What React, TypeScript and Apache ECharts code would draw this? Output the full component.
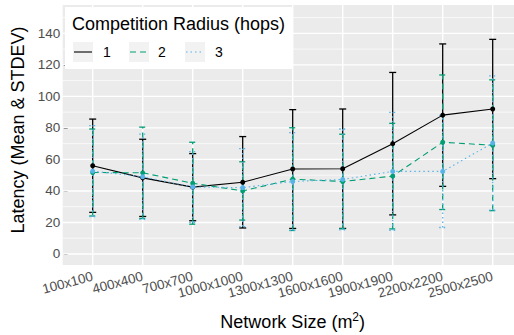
import React, { useEffect, useRef } from "react";
import * as echarts from "echarts";

const categories = ["100x100", "400x400", "700x700", "1000x1000", "1300x1300", "1600x1600", "1900x1900", "2200x2200", "2500x2500"];
const seriesNames = ["1", "2", "3"];
const mean1 = [56, 48.3, 42.4, 45.5, 53.9, 54.1, 70, 88.1, 92];
const sd1 = [29.6, 24.5, 21.3, 29, 37.7, 37.9, 45.2, 45.2, 44.2];
const mean2 = [51.7, 51.5, 44.9, 40, 47.5, 46, 49.4, 70.9, 69];
const sd2 = [27.6, 29, 26, 18.5, 32.6, 30, 33.5, 42.7, 41.5];
const mean3 = [52.6, 49, 42.5, 42.1, 46, 47.3, 52.4, 52.4, 70.4];
const sd3 = [28.9, 27, 22.5, 24.7, 31, 32, 37.4, 35.6, 42.6];
const yTicks = [0, 20, 40, 60, 80, 100, 120, 140];
const yMinor = [10, 30, 50, 70, 90, 110, 130, 150];

const colors = ["#000000", "#009E73", "#56B4E9"];
const dashes: any[] = ["solid", [6, 4], [1.5, 3]];
const FONT = "Liberation Sans, Arial, Helvetica, sans-serif";

// ggplot's discrete axis expands 0.6 of a band on each side; ECharts' band gives 0.5
function panelExt(cs: any) {
  return (cs.width / categories.length) * 0.1;
}

function panelSeries() {
  return {
    type: "custom",
    silent: true,
    z: 0,
    data: [[0, 0]],
    renderItem: (params: any) => {
      const cs = params.coordSys;
      const e = panelExt(cs);
      return { type: "rect", shape: { x: cs.x - e, y: cs.y, width: cs.width + 2 * e, height: cs.height }, style: { fill: "#EBEBEB" } };
    },
  };
}

function gridSeries(values: number[], horizontal: boolean, width: number) {
  return {
    type: "custom",
    silent: true,
    z: 1,
    data: values.map((v) => (horizontal ? [0, v] : [v, 0])),
    renderItem: (params: any, api: any) => {
      const cs = params.coordSys;
      const e = panelExt(cs);
      if (horizontal) {
        const y = api.coord([0, api.value(1)])[1];
        return { type: "line", shape: { x1: cs.x - e, y1: y, x2: cs.x + cs.width + e, y2: y }, style: { stroke: "#FFFFFF", lineWidth: width } };
      }
      const x = api.coord([api.value(0), 0])[0];
      return { type: "line", shape: { x1: x, y1: cs.y, x2: x, y2: cs.y + cs.height }, style: { stroke: "#FFFFFF", lineWidth: width } };
    },
  };
}

function errSeries(name: string, mean: number[], sd: number[], color: string, dash: any, z: number) {
  return {
    type: "custom",
    name,
    silent: true,
    z,
    encode: { x: 0, y: [1, 2] },
    data: mean.map((m, i) => [i, m - sd[i], m + sd[i]]),
    renderItem: (params: any, api: any) => {
      const x = api.value(0);
      const lo = api.coord([x, api.value(1)]);
      const hi = api.coord([x, api.value(2)]);
      const hw = 3.5;
      const style = { stroke: color, lineWidth: 1.3, lineDash: dash === "solid" ? null : dash, fill: null };
      return {
        type: "group",
        children: [
          { type: "line", shape: { x1: lo[0], y1: lo[1], x2: hi[0], y2: hi[1] }, style },
          { type: "line", shape: { x1: hi[0] - hw, y1: hi[1], x2: hi[0] + hw, y2: hi[1] }, style },
          { type: "line", shape: { x1: lo[0] - hw, y1: lo[1], x2: lo[0] + hw, y2: lo[1] }, style },
        ],
      };
    },
  };
}

function lineSeries(name: string, mean: number[], color: string, dash: any, z: number) {
  return {
    type: "line",
    name,
    z,
    data: mean,
    symbol: "circle",
    symbolSize: 5,
    showSymbol: true,
    itemStyle: { color, borderWidth: 0 },
    lineStyle: { color, width: 1.1, type: dash },
  };
}

function legendGraphic() {
  const keyX = [73, 129, 185];
  const labX = [103, 158, 215];
  const Z = 100;
  const children: any[] = [
    { type: "rect", z: Z, shape: { x: 65, y: 7, width: 227, height: 62 }, style: { fill: "#FFFFFF" } },
    { type: "text", z: Z + 1, x: 72, y: 24, style: { text: "Competition Radius (hops)", font: `18px ${FONT}`, fill: "#000", verticalAlign: "middle" } },
  ];
  seriesNames.forEach((n, i) => {
    children.push({ type: "rect", z: Z + 1, shape: { x: keyX[i], y: 42, width: 20, height: 20 }, style: { fill: "#F2F2F2" } });
    children.push({
      type: "line",
      z: Z + 2,
      shape: { x1: keyX[i] + 1, y1: 52, x2: keyX[i] + 19, y2: 52 },
      style: { stroke: colors[i], lineWidth: 1.1, lineDash: dashes[i] === "solid" ? null : dashes[i] },
    });
    children.push({ type: "text", z: Z + 1, x: labX[i], y: 52, style: { text: n, font: `14px ${FONT}`, fill: "#000", verticalAlign: "middle" } });
  });
  return children;
}

export default function App() {
  const ref = useRef<HTMLDivElement>(null);
  useEffect(() => {
    if (!ref.current) return;
    const chart = echarts.init(ref.current, null, { renderer: "svg" });
    const means = [mean1, mean2, mean3];
    const sds = [sd1, sd2, sd3];
    chart.setOption({
      animation: false,
      backgroundColor: "#FFFFFF",
      textStyle: { fontFamily: FONT },
      grid: {
        left: 67.7,
        top: 5,
        width: 450,
        height: 260,
        show: false,
        containLabel: false,
        outerBoundsMode: "none",
      },
      xAxis: {
        type: "category",
        data: categories,
        boundaryGap: true,
        axisLine: { show: false },
        splitLine: { show: false },
        axisTick: { show: true, alignWithLabel: true, interval: 0, length: 4, lineStyle: { color: "#333333", width: 1 } },
        axisLabel: {
          interval: 0,
          rotate: 15,
          color: "#4D4D4D",
          fontSize: 13.5,
          margin: 11,
          fontFamily: FONT,
          hideOverlap: false,
        },
        name: "{a|Network Size (m}{s|2}{a|)}",
        nameLocation: "middle",
        nameGap: 46,
        nameTextStyle: {
          rich: {
            a: { fontSize: 18, color: "#000", lineHeight: 22, fontFamily: FONT },
            s: { fontSize: 12, color: "#000", lineHeight: 12, verticalAlign: "top", fontFamily: FONT },
          },
        },
      },
      yAxis: {
        type: "value",
        min: -7,
        max: 158,
        axisLine: { show: false },
        splitLine: { show: false },
        axisTick: { show: true, length: 4, lineStyle: { color: "#333333", width: 1 }, customValues: yTicks },
        axisLabel: { customValues: yTicks, color: "#4D4D4D", fontSize: 13.5, margin: 7.5, fontFamily: FONT },
        name: "Latency (Mean & STDEV)",
        nameLocation: "middle",
        nameGap: 32,
        nameTextStyle: { fontSize: 18, color: "#000", fontFamily: FONT, padding: [0, 0, 0, 10] },
      },
      series: [
        panelSeries(),
        gridSeries(yMinor, true, 0.7),
        gridSeries(yTicks, true, 1.4),
        gridSeries(categories.map((_, i) => i), false, 1.4),
        ...seriesNames.map((n, i) => errSeries(n, means[i], sds[i], colors[i], dashes[i], 3 + i)),
        ...seriesNames.map((n, i) => lineSeries(n, means[i], colors[i], dashes[i], 6 + i)),
      ],
      graphic: { elements: legendGraphic() },
    });
    return () => chart.dispose();
  }, []);
  return <div ref={ref} style={{ position: "fixed", left: 0, top: 0, width: 514, height: 335 }} />;
}
